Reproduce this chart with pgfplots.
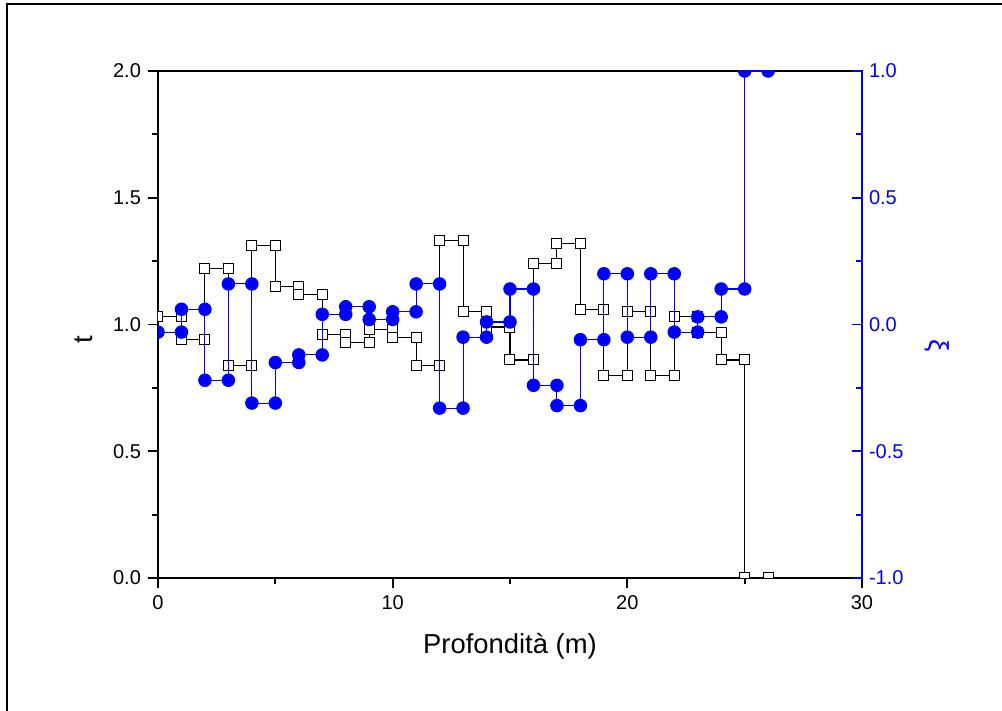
\documentclass[border=0pt]{standalone}
\usepackage{fontspec}
\setmainfont{Liberation Sans}
\usepackage{pgfplots}
\pgfplotsset{compat=1.18}
\usepackage{pgfplotstable}

\pgfplotstableread{
x y
0 1.03
1 1.03
1 0.94
2 0.94
2 1.22
3 1.22
3 0.84
4 0.84
4 1.31
5 1.31
5 1.15
6 1.15
6 1.12
7 1.12
7 0.96
8 0.96
8 0.93
9 0.93
9 0.98
10 0.98
10 0.95
11 0.95
11 0.84
12 0.84
12 1.33
13 1.33
13 1.05
14 1.05
14 0.99
15 0.99
15 0.86
16 0.86
16 1.24
17 1.24
17 1.32
18 1.32
18 1.06
19 1.06
19 0.80
20 0.80
20 1.05
21 1.05
21 0.80
22 0.80
22 1.03
23 1.03
23 0.97
24 0.97
24 0.86
25 0.86
25 0.00
26 0.00
}\tdata

\pgfplotstableread{
x y
0 -0.03
1 -0.03
1 0.06
2 0.06
2 -0.22
3 -0.22
3 0.16
4 0.16
4 -0.31
5 -0.31
5 -0.15
6 -0.15
6 -0.12
7 -0.12
7 0.04
8 0.04
8 0.07
9 0.07
9 0.02
10 0.02
10 0.05
11 0.05
11 0.16
12 0.16
12 -0.33
13 -0.33
13 -0.05
14 -0.05
14 0.01
15 0.01
15 0.14
16 0.14
16 -0.24
17 -0.24
17 -0.32
18 -0.32
18 -0.06
19 -0.06
19 0.20
20 0.20
20 -0.05
21 -0.05
21 0.20
22 0.20
22 -0.03
23 -0.03
23 0.03
24 0.03
24 0.14
25 0.14
25 1.00
26 1.00
}\xidata

\definecolor{xiblue}{RGB}{0,0,255}

\begin{document}
\begin{tikzpicture}
\useasboundingbox (-79pt,-66.5pt) rectangle (422pt,289pt);
\draw[line width=1pt] (-75.5pt,-80pt) -- (-75.5pt,287.2pt) -- (440pt,287.2pt);

\begin{axis}[
  scale only axis,
  width=352pt, height=253.5pt,
  xmin=0, xmax=30, ymin=0, ymax=2,
  clip marker paths=true,
  axis line style={line width=0.9pt},
  xtick={0,10,20,30}, minor xtick={5,15,25},
  ytick={0,0.5,1,1.5,2}, minor ytick={0.25,0.75,1.25,1.75},
  xtick pos=bottom, ytick pos=left,
  tick align=outside,
  major tick length=5pt, minor tick length=3pt,
  every tick/.style={black, line width=0.9pt},
  /pgf/number format/assume math mode=true,
  yticklabel style={/pgf/number format/.cd, fixed, fixed zerofill, precision=1},
  ticklabel style={font=\fontsize{10}{12}\selectfont},
  xlabel={Profondità (m)},
  ylabel={t},
  label style={font=\fontsize{13.7}{16}\selectfont},
  xlabel style={at={([yshift=-34pt]axis description cs:0.5,0)}, anchor=center},
  ylabel style={at={([xshift=-37pt]axis description cs:0,0.47)}, anchor=center},
]
\addplot[black, line width=0.55pt, mark=square*, mark size=2.5pt,
  mark options={fill=white, draw=black, line width=0.5pt, solid}] table[x=x,y=y] {\tdata};
\end{axis}

\begin{axis}[
  scale only axis,
  width=352pt, height=253.5pt,
  xmin=0, xmax=30, ymin=-1, ymax=1,
  clip marker paths=true,
  axis x line=none,
  axis y line*=right,
  y axis line style={xiblue, line width=0.9pt, -},
  ytick={-1,-0.5,0,0.5,1}, minor ytick={-0.75,-0.25,0.25,0.75},
  tick align=inside,
  major tick length=5pt, minor tick length=3pt,
  every tick/.style={xiblue, line width=0.9pt},
  /pgf/number format/assume math mode=true,
  yticklabel style={xiblue, font=\fontsize{10}{12}\selectfont, /pgf/number format/.cd, fixed, fixed zerofill, precision=1},
  ylabel={ξ},
  ylabel style={xiblue, font=\fontsize{13.7}{16}\selectfont, at={([xshift=37.5pt]axis description cs:1,0.458)}, anchor=center, rotate=180},
]
\addplot[xiblue, line width=0.55pt, mark=*, mark size=3.1pt,
  mark options={fill=xiblue, draw=xiblue, solid}] table[x=x,y=y] {\xidata};
\end{axis}
\end{tikzpicture}
\end{document}
